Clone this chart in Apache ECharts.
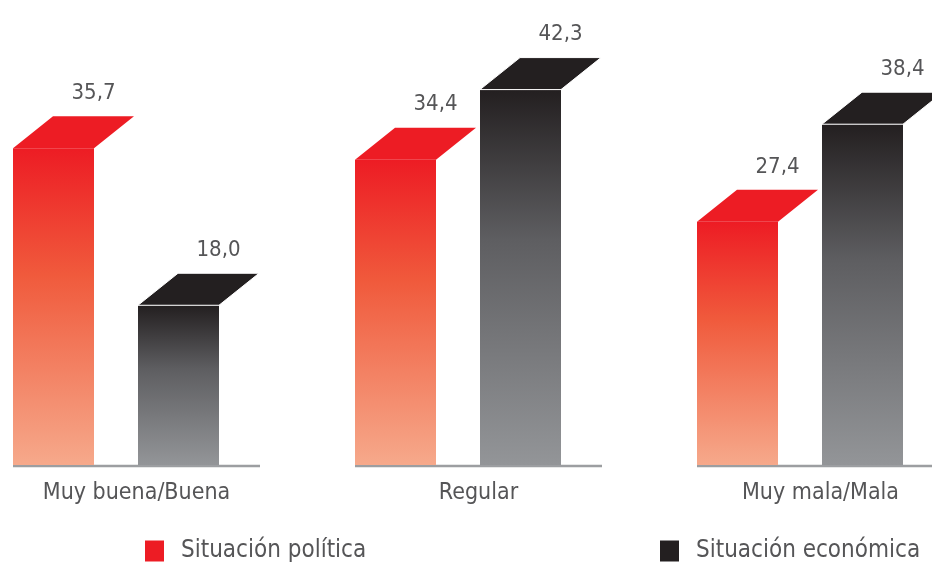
<!DOCTYPE html>
<html>
<head>
<meta charset="utf-8">
<script src="https://cdn.jsdelivr.net/npm/echarts@6/dist/echarts.min.js"></script>
<style>
  html, body { margin: 0; padding: 0; background: #fff; }
  #main { width: 932px; height: 562px; }
</style>
</head>
<body>
<div id="main"></div>
<script>
// 数据
var categories = ['Muy buena/Buena', 'Regular', 'Muy mala/Mala'];
var seriesNames = ['Situación política', 'Situación económica'];
var politica = [35.7, 34.4, 27.4];
var economica = [18.0, 42.3, 38.4];

var FONT = '"DejaVu Sans Condensed", "DejaVu Sans", sans-serif';
var TEXT_COLOR = '#555557';

// 柱子的样式
var BAR_W = 81;   // 正面宽度
var DX = 40;      // 顶面向右偏移
var DY = 32;      // 顶面向上偏移
var styles = [
  { offset: -123.5, top: '#ED1C24', stops: ['#ED1C24', '#F05A3C', '#F6A98B'] },
  { offset: 1.5, top: '#231F20', stops: ['#231F20', '#5E5E61', '#939598'] }
];

function fmt(v) {
  return v.toFixed(1).replace('.', ',');
}

function makeRender(si) {
  return function (params, api) {
    var idx = api.value(0);
    var val = api.value(1);
    var top = api.coord([idx, val]);
    var base = api.coord([idx, 0]);
    var st = styles[si];
    var x0 = top[0] + st.offset;
    var x1 = x0 + BAR_W;
    var yt = top[1];
    var yb = base[1];
    var children = [];
    // 底部的灰线，只画一次
    if (si === 0) {
      children.push({
        type: 'line',
        shape: { x1: base[0] - 123.5, y1: yb + 1, x2: base[0] + 123.5, y2: yb + 1 },
        style: { stroke: '#9c9ea1', lineWidth: 2.5 }
      });
    }
    children.push({
      type: 'rect',
      shape: { x: x0, y: yt, width: BAR_W, height: yb - yt },
      style: {
        fill: {
          type: 'linear', x: 0, y: 0, x2: 0, y2: 1,
          colorStops: [
            { offset: 0, color: st.stops[0] },
            { offset: 0.4, color: st.stops[1] },
            { offset: 1, color: st.stops[2] }
          ]
        }
      }
    });
    children.push({
      type: 'polygon',
      shape: { points: [[x0, yt], [x1, yt], [x1 + DX, yt - DY], [x0 + DX, yt - DY]] },
      style: { fill: st.top, stroke: si === 1 ? '#ffffff' : null, lineWidth: si === 1 ? 1 : 0 }
    });
    children.push({
      type: 'text',
      style: {
        text: fmt(val),
        x: x0 + BAR_W / 2 + DX,
        y: yt - DY - 23,
        align: 'center',
        verticalAlign: 'middle',
        fill: TEXT_COLOR,
        font: '22px ' + FONT
      }
    });
    return { type: 'group', children: children };
  };
}

function toData(arr) {
  var out = [];
  for (var i = 0; i < arr.length; i++) {
    out.push([i, arr[i]]);
  }
  return out;
}

var myChart = echarts.init(document.getElementById('main'));

var option = {
  animation: false,
  grid: {
    left: -34.5, width: 1026, top: 39, height: 426,
    containLabel: false,
    outerBoundsMode: 'none'
  },
  xAxis: {
    type: 'category',
    data: categories,
    axisLine: { show: false },
    axisTick: { show: false },
    axisLabel: {
      margin: 17,
      color: TEXT_COLOR,
      fontSize: 23,
      fontFamily: FONT
    }
  },
  yAxis: {
    type: 'value',
    min: 0,
    max: 48,
    show: false
  },
  legend: [
    {
      data: [seriesNames[0]],
      left: 145, top: 539, padding: 0,
      itemWidth: 19, itemHeight: 21,
      icon: 'rect',
      textStyle: { color: TEXT_COLOR, fontSize: 24, fontFamily: FONT, padding: [0, 0, 0, 12] }
    },
    {
      data: [seriesNames[1]],
      left: 660, top: 539, padding: 0,
      itemWidth: 19, itemHeight: 21,
      icon: 'rect',
      textStyle: { color: TEXT_COLOR, fontSize: 24, fontFamily: FONT, padding: [0, 0, 0, 12] }
    }
  ],
  series: [
    {
      name: seriesNames[0],
      type: 'custom',
      renderItem: makeRender(0),
      itemStyle: { color: '#ED1C24' },
      encode: { x: 0, y: 1 },
      data: toData(politica)
    },
    {
      name: seriesNames[1],
      type: 'custom',
      renderItem: makeRender(1),
      itemStyle: { color: '#231F20' },
      encode: { x: 0, y: 1 },
      data: toData(economica)
    }
  ]
};

myChart.setOption(option);
</script>
</body>
</html>
